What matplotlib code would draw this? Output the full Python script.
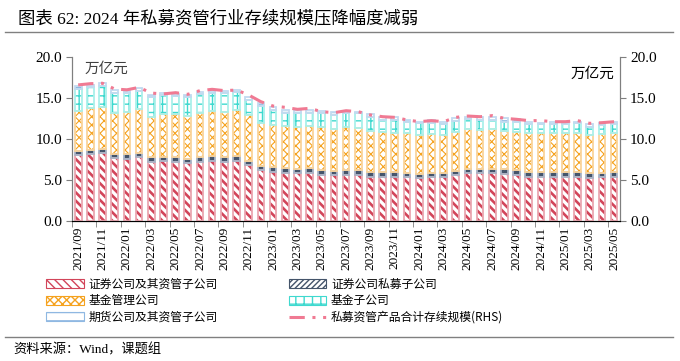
import numpy as np
import matplotlib
matplotlib.use('Agg')
import matplotlib.pyplot as plt
from matplotlib.patches import Patch
from matplotlib.lines import Line2D

plt.rcParams['font.family'] = ['Liberation Serif', 'Noto Sans CJK SC']

# ---- data (万亿元) ----
months = [f"{y}/{m:02d}" for y in range(2021, 2026) for m in range(1, 13)]
months = months[months.index("2021/09"):months.index("2025/05") + 1]

sec_am = [8.05, 8.17, 8.25, 7.64, 7.60, 7.76, 7.23, 7.35, 7.23, 7.03, 7.23, 7.35, 7.23, 7.35, 6.83,
          6.22, 6.02, 5.89, 5.81, 5.89, 5.61, 5.61, 5.61, 5.61, 5.40, 5.40, 5.40, 5.33, 5.20, 5.33,
          5.33, 5.61, 5.81, 5.81, 5.81, 5.73, 5.61, 5.40, 5.40, 5.40, 5.33, 5.40, 5.20, 5.33, 5.40]
sec_pe = [0.52, 0.48, 0.49, 0.53, 0.53, 0.49, 0.53, 0.49, 0.53, 0.49, 0.53, 0.57, 0.53, 0.57, 0.52,
          0.49, 0.52, 0.53, 0.53, 0.53, 0.61, 0.53, 0.61, 0.61, 0.62, 0.53, 0.53, 0.48, 0.53, 0.48,
          0.48, 0.53, 0.49, 0.53, 0.57, 0.57, 0.61, 0.62, 0.62, 0.62, 0.60, 0.62, 0.61, 0.56, 0.62]
fund_co = [4.88, 5.09, 5.12, 5.04, 5.20, 5.37, 4.96, 5.16, 5.29, 5.28, 5.45, 5.53, 5.57, 5.62, 5.58,
           5.29, 5.16, 5.20, 5.08, 5.16, 5.20, 5.03, 5.20, 5.08, 4.99, 4.97, 4.85, 4.89, 4.76, 4.81,
           4.68, 4.76, 4.87, 4.75, 4.79, 4.71, 4.68, 4.68, 4.68, 4.68, 4.77, 4.68, 4.68, 4.73, 4.68]
fund_sub = [2.61, 2.64, 2.60, 2.36, 2.32, 2.28, 2.36, 2.37, 2.19, 2.36, 2.29, 2.20, 2.24, 2.23, 1.83,
            2.02, 1.84, 1.60, 1.71, 1.63, 1.71, 1.76, 1.71, 1.83, 1.71, 1.42, 1.54, 1.41, 1.42, 1.37,
            1.34, 1.34, 1.23, 1.23, 1.15, 1.10, 1.13, 1.13, 1.13, 1.13, 1.13, 1.21, 1.01, 1.09, 1.13]
futures = [0.40, 0.25, 0.33, 0.40, 0.25, 0.28, 0.29, 0.20, 0.26, 0.21, 0.27, 0.25, 0.24, 0.20, 0.40,
           0.33, 0.32, 0.35, 0.41, 0.33, 0.32, 0.40, 0.32, 0.20, 0.33, 0.40, 0.32, 0.21, 0.20, 0.33,
           0.20, 0.28, 0.32, 0.32, 0.32, 0.41, 0.37, 0.28, 0.16, 0.28, 0.20, 0.20, 0.33, 0.28, 0.28]
total = [16.60, 16.75, 16.80, 16.10, 16.00, 16.30, 15.60, 15.50, 15.65, 15.45, 15.90, 16.06, 15.90, 15.97, 15.37,
         14.55, 14.02, 13.86, 13.62, 13.74, 13.33, 13.21, 13.45, 13.33, 12.93, 12.72, 12.64, 12.32, 12.11, 12.24,
         12.11, 12.64, 12.80, 12.72, 12.85, 12.52, 12.40, 12.24, 12.24, 12.11, 12.11, 12.24, 11.91, 11.99, 12.11]

names = ['证券公司及其资管子公司', '证券公司私募子公司', '基金管理公司', '基金子公司', '期货公司及其资管子公司']
line_name = '私募资管产品合计存续规模(RHS)'
hatch_cols = ['#d2455a', '#44546a', '#f5a21e', '#3fd9cf', '#8fb8e2']
edge_cols = ['#eaa7b1', '#a9b4c6', '#fad49b', '#aaf0ea', '#c2daf0']
hatches = ['\\\\\\\\', '//////', 'xxxx', '++', '--']
hatch_lw = [1.9, 2.8, 0.8, 1.0, 1.0]
line_col = '#f07a93'
line_ls = (0, (5, 2.5, 1, 2.5, 1, 2.5))

fig = plt.figure(figsize=(6.8, 3.61), dpi=100)
ax = fig.add_axes([0.106, 0.388, 0.806, 0.454])
x = np.arange(len(months))
w = 0.55

bottom = np.zeros(len(months))
for vals, hc, ec, h, hl in zip([sec_am, sec_pe, fund_co, fund_sub, futures], hatch_cols, edge_cols, hatches, hatch_lw):
    vals = np.array(vals)
    with plt.rc_context({'hatch.linewidth': hl}):
        ax.bar(x, vals, w, bottom=bottom, color='white', edgecolor=hc, hatch=h, linewidth=0, zorder=2)
    ax.bar(x, vals, w, bottom=bottom, fill=False, edgecolor=ec, linewidth=1.3, zorder=3)
    bottom += vals

ax2 = ax.twinx()
ax2.plot(x, total, color=line_col, lw=2.2, linestyle=line_ls, zorder=4)

for a in (ax, ax2):
    a.set_ylim(0, 20)
    a.set_yticks(np.arange(0, 20.1, 5))
    a.set_yticklabels([f"{v:.1f}" for v in np.arange(0, 20.1, 5)], fontsize=11)
    a.tick_params(axis='y', length=4, color='#7f7f7f', pad=3)
    a.spines['top'].set_visible(False)
    a.spines['left'].set_color('#7f7f7f')
    a.spines['right'].set_color('#7f7f7f')
ax.set_xlim(-0.5, len(months) - 0.5)
ax.set_xticks(x[::2])
ax.set_xticklabels(months[::2], rotation=90, fontsize=9.5)
ax.tick_params(axis='x', length=0, pad=4)
ax.set_xticks(np.arange(-0.5, len(months), 2), minor=True)
ax.tick_params(axis='x', which='minor', length=4, color='#7f7f7f')
ax.spines['bottom'].set_color('black')

ax.text(0.022, 0.97, '万亿元', transform=ax.transAxes, fontsize=10.5, color='#404040',
        ha='left', va='top', family=['Noto Sans CJK SC'])
ax.text(0.99, 0.94, '万亿元', transform=ax.transAxes, fontsize=10.5, color='black',
        ha='right', va='top', family=['Noto Sans CJK SC'])

# legend (row-major order)
patches = []
for i in range(5):
    with plt.rc_context({'hatch.linewidth': hatch_lw[i]}):
        patches.append(Patch(facecolor='white', edgecolor=hatch_cols[i], hatch=hatches[i], linewidth=0.8))
line_h = Line2D([0], [0], color=line_col, lw=2.2, linestyle=line_ls)
handles = [patches[0], patches[2], patches[4], patches[1], patches[3], line_h]
labels = [names[0], names[2], names[4], names[1], names[3], line_name]
fig.legend(handles, labels, ncol=2, loc='upper left', bbox_to_anchor=(0.052, 0.26),
           frameon=False, handlelength=3.2, handleheight=0.75,
           columnspacing=6.0, labelspacing=0.3, handletextpad=0.4,
           prop={'family': ['Noto Sans CJK SC'], 'size': 8.5})

# title and separators
fig.text(0.026, 0.948, '图表 62: 2024 年私募资管行业存续规模压降幅度减弱', fontsize=12.5,
         ha='left', va='center')
fig.add_artist(Line2D([0.007, 0.99], [0.911, 0.911], color='#808080', lw=1))
fig.add_artist(Line2D([0.007, 0.99], [0.066, 0.066], color='#808080', lw=1))
fig.text(0.02, 0.03, '资料来源：Wind，课题组', fontsize=9.5, ha='left', va='center')

fig.savefig('out.png', dpi=100)
